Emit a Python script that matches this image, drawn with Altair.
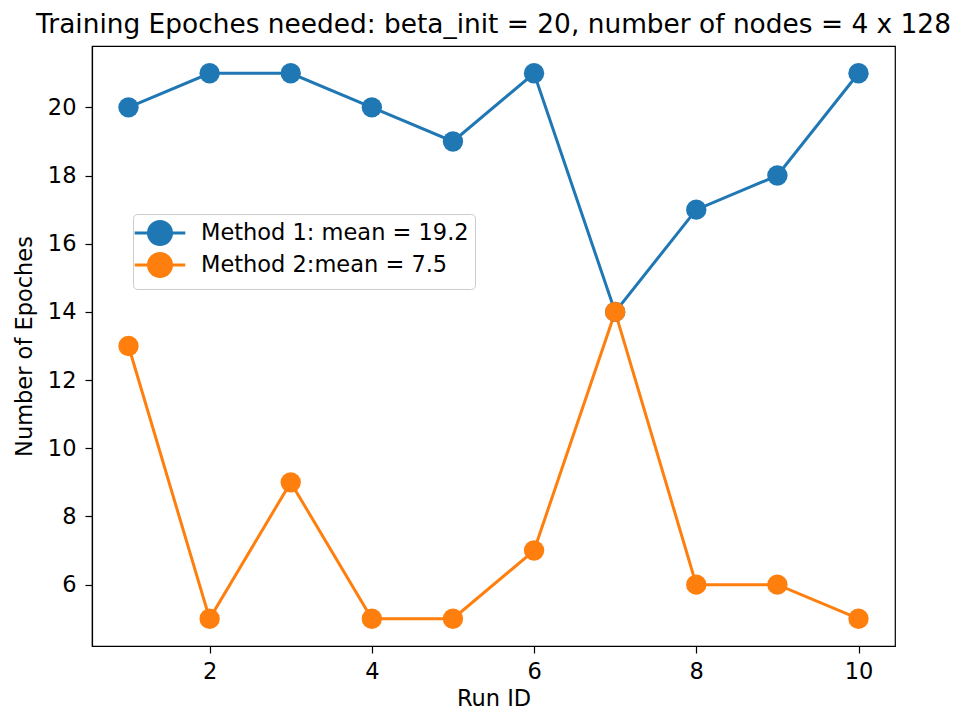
import altair as alt
import pandas as pd

runs = [1, 2, 3, 4, 5, 6, 7, 8, 9, 10]
method1 = [20, 21, 21, 20, 19, 21, 14, 17, 18, 21]
method2 = [13, 5, 9, 5, 5, 7, 14, 6, 6, 5]
labels = ["Method 1: mean = 19.2", "Method 2:mean = 7.5"]
colors = ["#1f77b4", "#ff7f0e"]
x_ticks = [2, 4, 6, 8, 10]
y_ticks = [6, 8, 10, 12, 14, 16, 18, 20]
chart_title = "Training Epoches needed: beta_init = 20, number of nodes = 4 x 128"

rows = []
for lab, vals in zip(labels, [method1, method2]):
    for r, v in zip(runs, vals):
        rows.append({"run": r, "epochs": v, "method": lab})
df = pd.DataFrame(rows)

FONT = "DejaVu Sans"
FS = 22.5
sym_path = "M-2.2,0L2.2,0M-1,0A1,1,0,1,1,1,0A1,1,0,1,1,-1,0Z"

x_enc = alt.X(
    "run:Q",
    scale=alt.Scale(domain=[0.55, 10.45], nice=False, zero=False),
    axis=alt.Axis(values=x_ticks, title="Run ID", labelPadding=7, titlePadding=5),
)
y_enc = alt.Y(
    "epochs:Q",
    scale=alt.Scale(domain=[4.2, 21.8], nice=False, zero=False),
    axis=alt.Axis(values=y_ticks, title="Number of Epoches", labelPadding=9, titlePadding=11),
)
color_enc = alt.Color(
    "method:N",
    scale=alt.Scale(domain=labels, range=colors),
    legend=alt.Legend(
        title=None,
        orient="none",
        legendX=41,
        legendY=168,
        symbolType=sym_path,
        symbolSize=529,
        symbolStrokeWidth=3,
        symbolOffset=8,
        labelOffset=28,
        labelLimit=500,
        labelFontSize=FS,
        labelFont=FONT,
        labelColor="black",
        padding=6,
        rowPadding=-4,
        strokeColor="#cccccc",
        fillColor="rgba(255,255,255,0.8)",
        cornerRadius=4,
    ),
)

lines = alt.Chart(df).mark_line(strokeWidth=3).encode(x=x_enc, y=y_enc, color=color_enc)
points = alt.Chart(df).mark_point(filled=True, size=415, opacity=1).encode(
    x=x_enc, y=y_enc, color=color_enc
)

chart = (
    alt.layer(lines, points)
    .properties(
        width=803,
        height=600,
        autosize=alt.AutoSizeParams(type="none"),
        padding={"left": 84, "top": 38, "right": 60, "bottom": 67},
        title=alt.Title(
            chart_title,
            fontSize=26.4,
            font=FONT,
            fontWeight="normal",
            color="black",
            offset=8,
            anchor="middle",
        ),
    )
    .configure_view(stroke="black", strokeWidth=1.2)
    .configure_axis(
        grid=False,
        domainColor="black",
        domainWidth=1.2,
        tickColor="black",
        tickWidth=1.2,
        tickSize=7,
        labelFont=FONT,
        titleFont=FONT,
        labelFontSize=FS,
        titleFontSize=FS,
        labelColor="black",
        titleColor="black",
        titleFontWeight="normal",
    )
)

chart.save("out.html", embed_options={"renderer": "svg", "actions": False})
